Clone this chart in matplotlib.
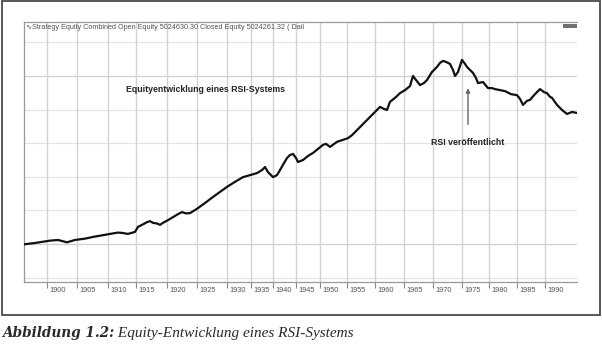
import matplotlib
matplotlib.use('Agg')

import matplotlib.pyplot as plt
from matplotlib.patches import Rectangle

# Bar index where each 5-year period starts (axis is bar-based, not linear in time)
tick_years = [1900, 1905, 1910, 1915, 1920, 1925, 1930, 1935, 1940, 1945,
              1950, 1955, 1960, 1965, 1970, 1975, 1980, 1985, 1990]
tick_bars = [23, 53, 84, 112, 143, 173, 203, 227, 249, 272,
             296, 323, 351, 380, 409, 438, 465, 493, 521]

# Equity curve (millions)
bars = [0, 11, 26, 34, 43, 51, 61, 69, 86, 94, 98, 104, 111, 114, 118, 123,
        126, 129, 133, 136, 139, 144, 149, 154, 158, 162, 166, 171, 174, 181,
        189, 196, 203, 211, 219, 226, 233, 238, 241, 244, 249, 253, 256, 260,
        263, 266, 269, 272, 274, 279, 284, 289, 294, 299, 302, 306, 313, 319,
        324, 328, 333, 337, 341, 346, 351, 356, 360, 363, 366, 371, 376, 381,
        386, 389, 392, 396, 400, 403, 408, 413, 416, 419, 422, 426, 429, 431,
        434, 436, 438, 441, 443, 446, 449, 452, 454, 459, 464, 468, 471, 476,
        481, 487, 493, 496, 499, 503, 506, 511, 516, 520, 523, 526, 528, 533,
        538, 543, 548, 553]
equity = [0.99, 1.03, 1.10, 1.12, 1.05, 1.12, 1.16, 1.21, 1.30, 1.34, 1.33,
          1.30, 1.36, 1.51, 1.57, 1.65, 1.68, 1.63, 1.61, 1.57, 1.63, 1.71,
          1.80, 1.89, 1.95, 1.91, 1.92, 2.01, 2.07, 2.22, 2.40, 2.55, 2.70,
          2.85, 2.99, 3.05, 3.11, 3.20, 3.29, 3.14, 2.99, 3.05, 3.20, 3.41,
          3.56, 3.65, 3.68, 3.56, 3.44, 3.50, 3.62, 3.71, 3.83, 3.95, 3.98,
          3.89, 4.04, 4.10, 4.15, 4.24, 4.39, 4.51, 4.63, 4.78, 4.93, 5.08,
          5.02, 4.99, 5.23, 5.35, 5.49, 5.58, 5.70, 6.00, 5.88, 5.73, 5.79,
          5.88, 6.12, 6.27, 6.39, 6.45, 6.42, 6.36, 6.18, 6.00, 6.12, 6.30,
          6.48, 6.36, 6.27, 6.18, 6.09, 5.94, 5.79, 5.82, 5.64, 5.64, 5.61,
          5.58, 5.55, 5.46, 5.43, 5.32, 5.14, 5.26, 5.29, 5.46, 5.61, 5.52,
          5.49, 5.38, 5.35, 5.14, 4.99, 4.87, 4.93, 4.90]

grid_levels = [0, 1, 2, 3, 4, 5, 6, 7]

header = ("\u223fStrategy Equity Combined Open Equity 5024630.30 "
          "Closed Equity 5024261.32 ( Dail")

sans = ['Liberation Sans', 'DejaVu Sans']

W, H = 602, 354
fig = plt.figure(figsize=(W / 100, H / 100), dpi=100)
fig.patch.set_facecolor('white')

# outer frame around the screenshot
fig.patches.append(Rectangle((2 / W, 1 - 315 / H), 598 / W, 314 / H,
                             transform=fig.transFigure, fill=False,
                             edgecolor='#4a4a4a', linewidth=1.3))

ax = fig.add_axes([24 / W, 1 - 282 / H, 553 / W, 260 / H])
ax.set_xlim(0, 553)
ax.set_ylim(-0.131, 7.607)

for lv in grid_levels:
    c = '#cfcfcf' if lv in (1, 6) else '#e4e4e4'
    ax.axhline(lv, color=c, linewidth=0.9, zorder=0)
for b in tick_bars:
    ax.axvline(b, color='#d2d2d2', linewidth=1.0, zorder=0)

ax.plot(bars, equity, color='#111111', linewidth=1.6, zorder=3)

ax.spines['right'].set_visible(False)
for s in ['left', 'top', 'bottom']:
    ax.spines[s].set_color('#9a9a9a')
    ax.spines[s].set_linewidth(0.9)

ax.set_yticks([])
ax.set_xticks(tick_bars)
ax.set_xticklabels([])
ax.tick_params(axis='x', length=4, width=0.8, color='#8a8a8a', direction='out')
for b, yr in zip(tick_bars, tick_years):
    ax.annotate(str(yr), xy=(b, 0), xycoords=('data', 'axes fraction'),
                xytext=(2, -8), textcoords='offset pixels',
                ha='left', va='center', fontsize=5.3, color='#555555',
                family=sans)

ax.text(2, 7.45, header, fontsize=5.2, color='#555555', ha='left',
        va='center', family=sans)
# small icon in the top right corner of the chart
ax.add_patch(Rectangle((539, 7.42), 14, 0.13, facecolor='#707070',
                       edgecolor='none', zorder=4))

ax.text(181, 5.6, 'Equityentwicklung eines RSI-Systems', fontsize=6.3,
        fontweight='bold', color='#222222', ha='center', va='center',
        family=sans)

ax.annotate('', xy=(444, 5.72), xytext=(444, 4.48),
            arrowprops=dict(arrowstyle='-|>', color='#666666', lw=1.0,
                            mutation_scale=6))
ax.text(444, 4.03, 'RSI ver\u00f6ffentlicht', fontsize=6.3, fontweight='bold',
        color='#222222', ha='center', va='center', family=sans)

# caption below the frame
t1 = fig.text(2 / W, 1 - 333 / H, 'Abbildung 1.2:', fontsize=9.8,
              fontweight='bold', style='italic', color='#2a2a2a',
              family='DejaVu Serif', ha='left', va='center')
ax.annotate(' Equity-Entwicklung eines RSI-Systems', xy=(1, 0.5),
            xycoords=t1, ha='left', va='center', fontsize=11,
            style='italic', color='#2a2a2a', family='Liberation Serif',
            annotation_clip=False)

fig.savefig('out.png', dpi=100, facecolor='white')
